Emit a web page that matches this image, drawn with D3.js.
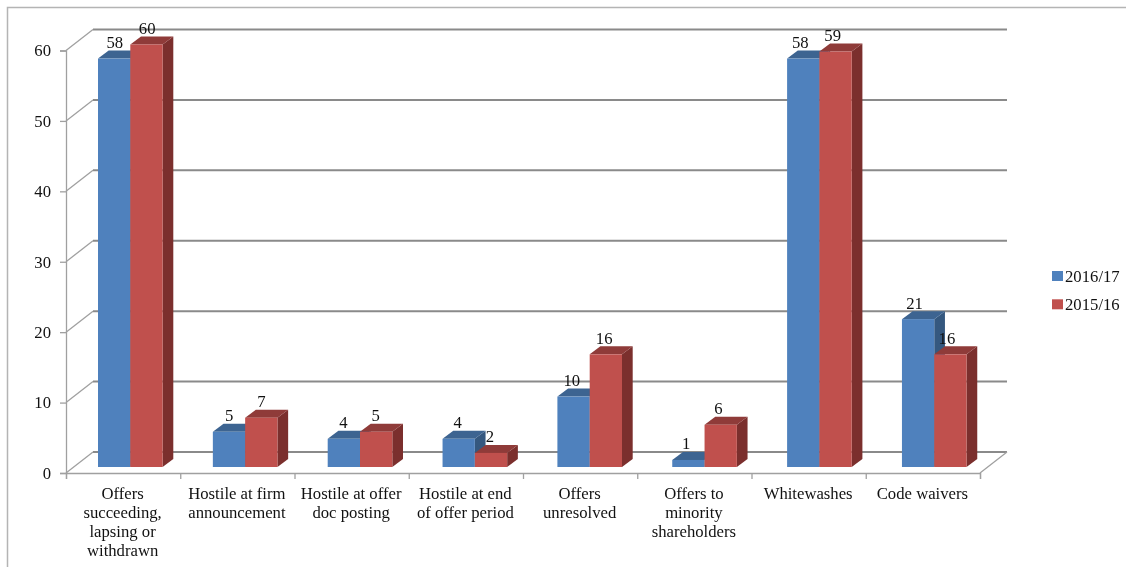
<!DOCTYPE html>
<html>
<head>
<meta charset="utf-8">
<script src="https://cdn.jsdelivr.net/npm/d3@7"></script>
<style>
  html, body { margin: 0; padding: 0; background: #fff; }
  svg { display: block; filter: blur(0.3px); }
  text { font-family: "Liberation Serif", serif; font-size: 16.7px; fill: #111; }
</style>
</head>
<body>
<div id="chart"></div>
<script>
const categories = [
  ["Offers", "succeeding,", "lapsing or", "withdrawn"],
  ["Hostile at firm", "announcement"],
  ["Hostile at offer", "doc posting"],
  ["Hostile at end", "of offer period"],
  ["Offers", "unresolved"],
  ["Offers to", "minority", "shareholders"],
  ["Whitewashes"],
  ["Code waivers"]
];
const seriesNames = ["2016/17", "2015/16"];
const values2016 = [58, 5, 4, 4, 10, 1, 58, 21];
const values2015 = [60, 7, 5, 2, 16, 6, 59, 16];
const yTicks = [0, 10, 20, 30, 40, 50, 60];

const W = 1126, H = 567;
const plotLeft = 66, plotRight = 980, plotBottom = 473, plotTop = 50.5;
// 3D offsets: wall depth, and the bar's own depth
const wallDx = 27, wallDy = -21;
const barDx = 10.7, barDy = -8, barLift = 6;

const colors = [
  { front: "#4f81bd", top: "#3d6491", side: "#35587f" },
  { front: "#c0504d", top: "#8f3b39", side: "#7b2f2d" }
];

const svg = d3.select("#chart").append("svg")
  .attr("width", W)
  .attr("height", H);

// picture frame
svg.append("path")
  .attr("d", `M7.5,${H} V7.5 H${W}`)
  .attr("fill", "none")
  .attr("stroke", "#b4b4b4")
  .attr("stroke-width", 1.5);

const keys = d3.range(categories.length);
const x0 = d3.scaleBand().domain(keys).range([plotLeft, plotRight]);
// the bars step a little wider than the axis ticks in the original
const xBars = d3.scaleBand().domain(keys).range([plotLeft, plotLeft + 8 * 114.85]);
const x1 = d3.scaleBand().domain([0, 1]).range([32, 96.6]);
const y = d3.scaleLinear().domain([0, 60]).range([plotBottom, plotTop]);

// back wall gridlines + the diagonals running to the front axis
yTicks.forEach(t => {
  svg.append("line")
    .attr("x1", plotLeft + wallDx).attr("x2", plotRight + wallDx)
    .attr("y1", y(t) + wallDy).attr("y2", y(t) + wallDy)
    .attr("stroke", "#8a8a8a")
    .attr("stroke-width", 2);
  svg.append("line")
    .attr("x1", plotLeft).attr("x2", plotLeft + wallDx)
    .attr("y1", y(t)).attr("y2", y(t) + wallDy)
    .attr("stroke", "#a0a0a0")
    .attr("stroke-width", 1.3);
});
svg.append("line")
  .attr("x1", plotRight).attr("x2", plotRight + wallDx)
  .attr("y1", plotBottom).attr("y2", plotBottom + wallDy)
  .attr("stroke", "#a0a0a0")
  .attr("stroke-width", 1.3);

// Y axis
const yAxis = svg.append("g")
  .attr("transform", `translate(${plotLeft},0)`)
  .call(d3.axisLeft(y).tickValues(yTicks).tickSize(6).tickPadding(9));
yAxis.selectAll("path, line").attr("stroke", "#a0a0a0").attr("stroke-width", 1.3);
yAxis.attr("font-family", null).attr("font-size", null);

// X axis, ticks sit on the band edges
const xAxis = svg.append("g")
  .attr("transform", `translate(0,${plotBottom})`)
  .call(d3.axisBottom(d3.scaleLinear().domain([0, keys.length]).range([plotLeft, plotRight]))
    .ticks(keys.length).tickSize(6).tickFormat(""));
xAxis.selectAll("path, line").attr("stroke", "#a0a0a0").attr("stroke-width", 1.3);

// category labels
svg.append("g").selectAll("text")
  .data(categories)
  .join("text")
    .attr("text-anchor", "middle")
    .attr("transform", (d, i) => `translate(${x0(i) + x0.bandwidth() / 2 - 0.5},0)`)
  .selectAll("tspan")
  .data(d => d)
  .join("tspan")
    .attr("x", 0)
    .attr("y", (d, i) => 498.5 + i * 19.2)
    .text(d => d);

// bars
const rows = keys.flatMap(i => [
  { cat: i, s: 0, value: values2016[i] },
  { cat: i, s: 1, value: values2015[i] }
]);
const bx = d => xBars(d.cat) + x1(d.s);
const by = d => y(d.value) - barLift;
const bw = x1.bandwidth();
const base = y(0) - barLift;

const bars = svg.append("g").selectAll("g")
  .data(rows)
  .join("g");

bars.append("path")
  .attr("fill", d => colors[d.s].side)
  .attr("d", d => `M${bx(d) + bw},${base} L${bx(d) + bw + barDx},${base + barDy} V${by(d) + barDy} L${bx(d) + bw},${by(d)} Z`);
bars.append("path")
  .attr("fill", d => colors[d.s].top)
  .attr("d", d => `M${bx(d)},${by(d)} L${bx(d) + barDx},${by(d) + barDy} H${bx(d) + bw + barDx} L${bx(d) + bw},${by(d)} Z`);
bars.append("rect")
  .attr("x", bx)
  .attr("y", by)
  .attr("width", bw)
  .attr("height", d => base - by(d))
  .attr("fill", d => colors[d.s].front);

// value labels follow the tick spacing, not the bar spacing
svg.append("g").selectAll("text")
  .data(rows)
  .join("text")
    .attr("text-anchor", "middle")
    .attr("x", d => x0(d.cat) + x1(d.s) + bw / 2 + 0.7)
    .attr("y", d => by(d) - 10.5)
    .text(d => d.value);

// legend
const legend = svg.append("g").selectAll("g")
  .data(seriesNames)
  .join("g")
    .attr("transform", (d, i) => `translate(1052,${271 + i * 28.3})`);
legend.append("rect")
  .attr("width", 11)
  .attr("height", 10)
  .attr("fill", (d, i) => colors[i].front);
legend.append("text")
  .attr("x", 13)
  .attr("y", 10.5)
  .text(d => d);
</script>
</body>
</html>
